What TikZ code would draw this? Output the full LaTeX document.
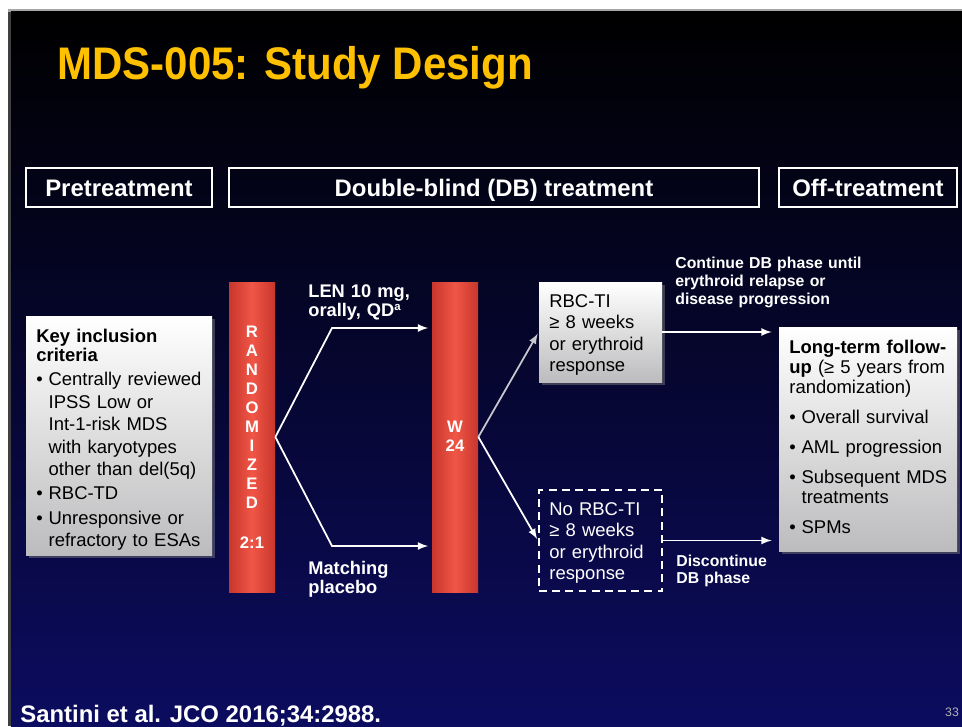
\documentclass[tikz,border=0pt]{standalone}
\usepackage{fontspec}
\setmainfont{Liberation Sans}
\usetikzlibrary{arrows,fit,calc,shadows}

\definecolor{slidenavy}{RGB}{12,12,96}
\definecolor{titlegold}{RGB}{255,192,0}
\definecolor{barred}{RGB}{240,86,70}
\definecolor{baredge}{RGB}{200,54,44}
\definecolor{boxgrey}{RGB}{188,188,190}
\definecolor{arrowgrey}{RGB}{200,200,206}

% bullet paragraph with hanging indent
\newcommand{\bitem}{\par\hangindent=7pt\hangafter=1\makebox[7pt][l]{\textbullet}}

\begin{document}
\begin{tikzpicture}[x=0.02cm,y=-0.02cm,
  hdrbox/.style={draw=white,line width=0.7pt,inner sep=0},
  hdrtext/.style={text=white,inner sep=0,text height=9.8pt,text depth=2.8pt,font=\bfseries\fontsize{13.6}{16}\selectfont},
  greybox/.style={top color=white,bottom color=boxgrey,draw=none,inner sep=0,drop shadow={opacity=0.45,shadow xshift=1.5pt,shadow yshift=-1.5pt}},
  dashbox/.style={draw=white,line width=1.2pt,dash pattern=on 4.5pt off 3pt,inner sep=0},
  bar/.style={left color=baredge,right color=baredge,middle color=barred,inner sep=0},
  bodytext/.style={inner sep=0,anchor=base west,align=left,font=\fontsize{10.5}{12.3}\selectfont},
  lbl/.style={text=white,inner sep=0,anchor=base west,align=left,text width=4cm,font=\bfseries\fontsize{10.4}{11.3}\selectfont},
  barlbl/.style={text=white,inner sep=0,anchor=base,align=center,text width=0.6cm},
  flow/.style={draw=white,line width=1pt,-latex}]

% slide frame and background
\fill[white] (0,0) rectangle (962,726);
\fill[gray!70] (8,9) rectangle (962,12);
\fill[black!75] (8,12) rectangle (11,726);
\shade[top color=black,bottom color=slidenavy] (11,12) rectangle (962,726);

\node[anchor=base west,inner sep=0,text=titlegold,font=\bfseries\fontsize{26}{30}\selectfont] (title) at (57,80) {\scalebox{0.92}[1]{MDS-005: Study Design}};

% phase headers
\node[hdrbox,fit={(26,168) (212,207)}] (pre) {};
\node[hdrtext] (pretxt) at ($(pre.center)+(0,3)$) {Pretreatment};
\node[hdrbox,fit={(229,168) (759,207)}] (db) {};
\node[hdrtext] (dbtxt) at ($(db.center)+(0,3)$) {Double-blind (DB) treatment};
\node[hdrbox,fit={(779,168) (957,207)}] (off) {};
\node[hdrtext] (offtxt) at ($(off.center)+(0,3)$) {Off-treatment};

% boxes and bars
\node[greybox,fit={(26,316) (212,555)}] (incl) {};
\node[bodytext,text width=3.6cm,font=\fontsize{10.5}{12.75}\selectfont] (incltxt) at (36,342) {\setlength{\parskip}{1.2pt}%
{\bfseries\baselineskip=11pt Key inclusion\newline criteria\par}%
\bitem Centrally reviewed\newline IPSS Low or\newline Int-1-risk MDS\newline with karyotypes\newline other than del(5q)
\bitem RBC-TD
\bitem Unresponsive or\newline refractory to ESAs\par};

\node[bar,fit={(229,282) (275,592)}] (rand) {};
\node[barlbl,font=\bfseries\fontsize{9.5}{10.85}\selectfont] (randtxt) at (252,337) {R\\A\\N\\D\\O\\M\\I\\Z\\E\\D};
\node[barlbl,font=\bfseries\fontsize{9.5}{11}\selectfont] (ratio) at (252,548) {2:1};

\node[bar,fit={(432,282) (478,592)}] (wk) {};
\node[barlbl,font=\bfseries\fontsize{9.5}{11.3}\selectfont] (wktxt) at (455,432) {W\\24};

\node[greybox,fit={(539,282) (662,382)}] (ti) {};
\node[bodytext,text width=2.3cm] (titxt) at (549,307) {RBC-TI\newline ≥ 8 weeks\newline or erythroid\newline response};

\node[dashbox,fit={(539,490) (662,591)}] (noti) {};
\node[bodytext,text width=2.3cm,text=white] (notitxt) at (549,515) {No RBC-TI\newline ≥ 8 weeks\newline or erythroid\newline response};

\node[greybox,fit={(779,327) (957,551)}] (follow) {};
\node[bodytext,text width=3.4cm,font=\fontsize{10.5}{11.6}\selectfont] (followtxt) at (789,353) {\setlength{\parskip}{5.4pt}%
\textbf{Long-term follow-}\newline\textbf{up} (≥ 5 years from\newline randomization)
\bitem Overall survival
\bitem AML progression
\bitem Subsequent MDS\newline treatments
\bitem SPMs\par};

% arm and outcome labels
\node[lbl] (len) at (308,297) {LEN 10 mg,\\orally, QD{\fontsize{6.5}{7}\selectfont\raisebox{3.5pt}{a}}};
\node[lbl] (plc) at (308,574) {Matching\\placebo};
\node[lbl,font=\bfseries\fontsize{9}{10.5}\selectfont] (cont) at (675,268) {Continue DB phase until\\erythroid relapse or\\disease progression};
\node[lbl,font=\bfseries\fontsize{9}{10.2}\selectfont] (disc) at (676,566) {Discontinue\\DB phase};

% connectors
\coordinate (lenbend) at (332,328);
\coordinate (plcbend) at (332,546);
\draw[flow,shorten >=2pt] (rand.east) -- (lenbend) -- (lenbend -| wk.west);
\draw[flow,shorten >=2pt] (rand.east) -- (plcbend) -- (plcbend -| wk.west);
\draw[flow,draw=arrowgrey,shorten >=1pt] (wk.east) -- (ti.west);
\draw[flow,shorten >=1pt] (wk.east) -- (noti.west);
\draw[flow,shorten >=4pt] (ti.east) -- (ti.east -| follow.west);
\draw[flow,shorten >=4pt] (noti.east) -- (noti.east -| follow.west);

% footer
\node[anchor=base west,inner sep=0,text=white,font=\bfseries\fontsize{13.6}{16}\selectfont] (cite) at (20,722) {Santini et al. JCO 2016;34:2988.};
\node[anchor=base,inner sep=0,text=gray!60,font=\fontsize{7}{8}\selectfont] (page) at (952,716) {33};
\end{tikzpicture}
\end{document}
